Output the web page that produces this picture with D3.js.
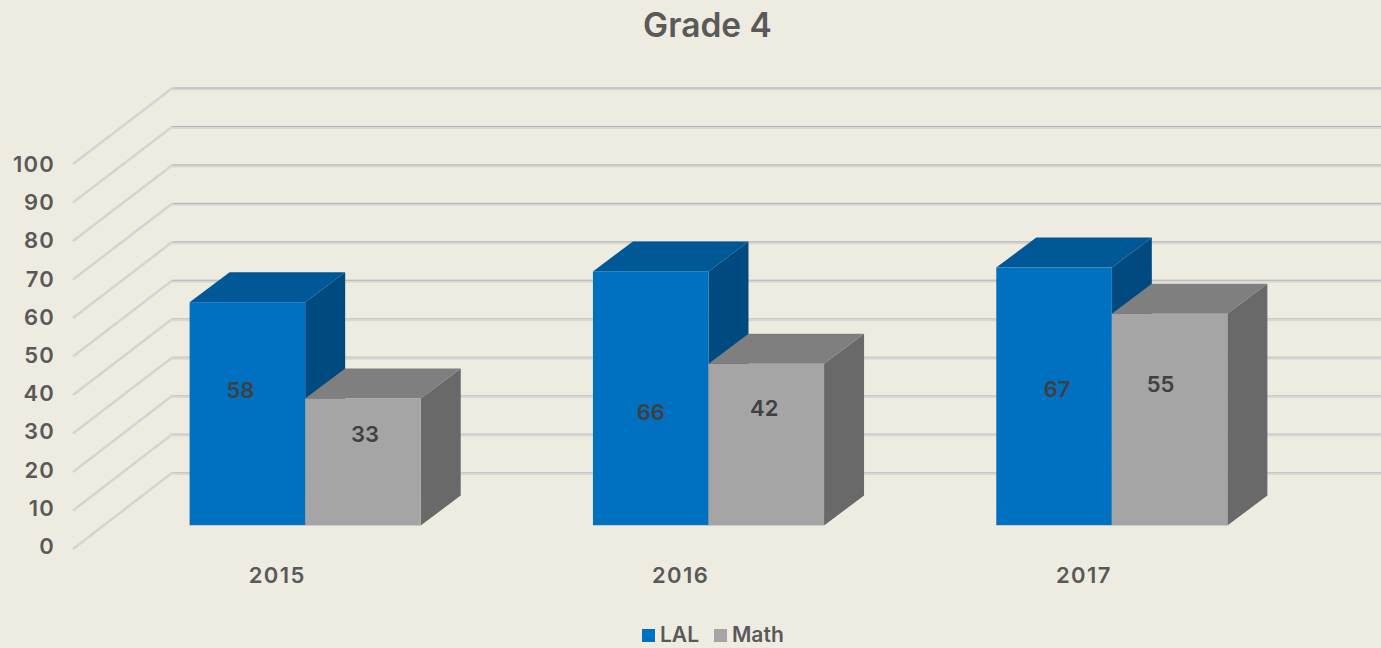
<!DOCTYPE html>
<html>
<head>
<meta charset="utf-8">
<script src="https://cdn.jsdelivr.net/npm/d3@7"></script>
<style>
  html, body { margin: 0; padding: 0; background: #eeece1; overflow: hidden; }
  text { font-family: "Inter", sans-serif; font-weight: 600; fill: #595959; }
</style>
</head>
<body>
<div id="chart"></div>
<script>
var years = ["2015", "2016", "2017"];
var seriesNames = ["LAL", "Math"];
var lalValues = [58, 66, 67];
var mathValues = [33, 42, 55];
var yTicks = [0, 10, 20, 30, 40, 50, 60, 70, 80, 90, 100];

var width = 1381, height = 648;
var depthX = 40, depthY = 30;

var svg = d3.select("#chart").append("svg")
  .attr("width", width)
  .attr("height", height);

// years across the front of the floor
var x = d3.scaleBand().domain(years).range([103.5, 1313.5])
  .paddingInner(0.427).paddingOuter(0.2135);
var xSeries = d3.scaleBand().domain(seriesNames).range([0, x.bandwidth()]);

// three vertical scales: bar front, back wall, front edge of side wall
var yBar = d3.scaleLinear().domain([0, 100]).range([525.5, 140.5]);
var yWall = d3.scaleLinear().domain([0, 100]).range([472.5, 88]);
var ySide = d3.scaleLinear().domain([0, 100]).range([549, 164]);
var yLabel = d3.scaleLinear().domain([0, 100]).range([546.5, 164.5]);

var colors = {
  LAL: { front: "#0070c0", top: "#005896", side: "#004a80" },
  Math: { front: "#a5a5a5", top: "#7f7f7f", side: "#696969" }
};

// title
svg.append("text")
  .attr("x", 707.5).attr("y", 37)
  .attr("text-anchor", "middle")
  .style("font-size", "33.5px")
  .text("Grade 4");

// walls
var grid = svg.append("g");
yTicks.forEach(function(t, i) {
  grid.append("line")
    .attr("x1", 73).attr("y1", ySide(t))
    .attr("x2", 172.5).attr("y2", yWall(t))
    .attr("stroke", "#d4d4d2").attr("stroke-width", 2.5);
  grid.append("line")
    .attr("x1", 172.5).attr("y1", yWall(t) + 1)
    .attr("x2", width).attr("y2", yWall(t) + 1)
    .attr("stroke", "#d8d8d6").attr("stroke-width", 3);
  grid.append("line")
    .attr("x1", 172.5).attr("y1", yWall(t))
    .attr("x2", width).attr("y2", yWall(t))
    .attr("stroke", i > 4 ? "#b4b4b4" : "#c8c8c6").attr("stroke-width", 1);
});

// y axis
var yAxis = svg.append("g")
  .attr("transform", "translate(55,0)")
  .call(d3.axisLeft(yLabel).tickValues(yTicks).tickSize(0).tickPadding(0));
yAxis.select(".domain").remove();
yAxis.selectAll("text").style("font-size", "22px").style("letter-spacing", "1.2px")
  .style("font-family", "Inter").attr("fill", null);

// x axis, labels sit left of the group centre
var xAxis = svg.append("g")
  .attr("transform", "translate(-28,567)")
  .call(d3.axisBottom(x).tickSize(0).tickPadding(0));
xAxis.select(".domain").remove();
xAxis.selectAll("text").style("font-size", "22px").style("letter-spacing", "1.4px")
  .style("font-family", "Inter").attr("fill", null);

function drawBars(name, values) {
  var c = colors[name];
  var g = svg.append("g").selectAll("g")
    .data(years)
    .enter().append("g");
  function x0(d) { return x(d) + xSeries(name); }
  function x1(d) { return x0(d) + xSeries.bandwidth(); }
  function top(d, i) { return yBar(values[i]); }
  // side face
  g.append("path")
    .attr("fill", c.side)
    .attr("d", function(d, i) {
      return "M" + x1(d) + "," + top(d, i) +
        "L" + (x1(d) + depthX) + "," + (top(d, i) - depthY) +
        "L" + (x1(d) + depthX) + "," + (yBar(0) - depthY) +
        "L" + x1(d) + "," + yBar(0) + "Z";
    });
  // top face
  g.append("path")
    .attr("fill", c.top)
    .attr("d", function(d, i) {
      return "M" + x0(d) + "," + top(d, i) +
        "L" + (x0(d) + depthX) + "," + (top(d, i) - depthY) +
        "L" + (x1(d) + depthX) + "," + (top(d, i) - depthY) +
        "L" + x1(d) + "," + top(d, i) + "Z";
    });
  // front face
  g.append("rect")
    .attr("x", x0)
    .attr("y", top)
    .attr("width", xSeries.bandwidth())
    .attr("height", function(d, i) { return yBar(0) - top(d, i); })
    .attr("fill", c.front);
  // thin light edge along the floor
  g.append("line")
    .attr("x1", x0).attr("x2", x1)
    .attr("y1", yBar(0)).attr("y2", yBar(0))
    .attr("stroke", "#c9c9c9").attr("stroke-width", 1);
}
drawBars("LAL", lalValues);
drawBars("Math", mathValues);

// data labels are not centred in the reference, nudged by hand from the bar centre
var labelNudge = {
  LAL: [[-7, -24], [0, 14], [3, -7]],
  Math: [[2, -28], [-2, -36], [-9, -35]]
};
seriesNames.forEach(function(name) {
  var values = name == "LAL" ? lalValues : mathValues;
  svg.append("g").selectAll("text")
    .data(years)
    .enter().append("text")
    .attr("x", function(d, i) { return x(d) + xSeries(name) + xSeries.bandwidth() / 2 + labelNudge[name][i][0]; })
    .attr("y", function(d, i) { return (yBar(values[i]) + yBar(0)) / 2 + labelNudge[name][i][1]; })
    .attr("dy", ".35em")
    .attr("text-anchor", "middle")
    .style("font-size", "22px")
    .style("fill", "#404040")
    .text(function(d, i) { return values[i]; });
});

// legend
var legendX = [642, 714];
var legend = svg.append("g").selectAll("g")
  .data(seriesNames)
  .enter().append("g")
  .attr("transform", function(d, i) { return "translate(" + legendX[i] + ",629)"; });
legend.append("rect")
  .attr("width", 13).attr("height", 13)
  .attr("fill", function(d) { return colors[d].front; });
legend.append("text")
  .attr("x", 18).attr("y", 13)
  .style("font-size", "21px")
  .text(function(d) { return d; });
</script>
</body>
</html>
